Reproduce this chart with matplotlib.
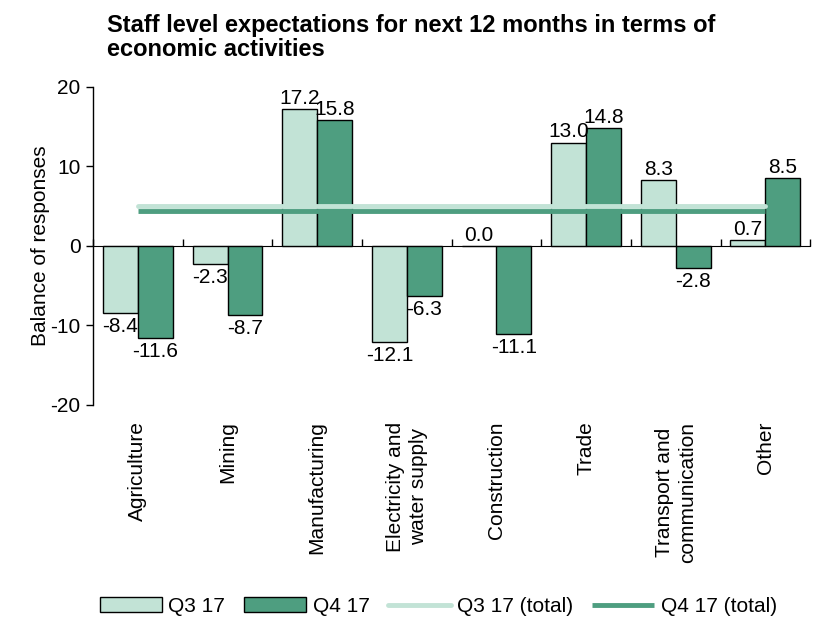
import matplotlib
matplotlib.use("Agg")
import matplotlib.pyplot as plt
import numpy as np

plt.rcParams['font.family'] = ['Liberation Sans', 'DejaVu Sans']
plt.rcParams['axes.unicode_minus'] = False

categories = ["Agriculture", "Mining", "Manufacturing", "Electricity and\nwater supply",
              "Construction", "Trade", "Transport and\ncommunication", "Other"]
q3 = [-8.4, -2.3, 17.2, -12.1, 0.0, 13.0, 8.3, 0.7]
q4 = [-11.6, -8.7, 15.8, -6.3, -11.1, 14.8, -2.8, 8.5]
q3_total = 5.0
q4_total = 4.4

c_light = "#C2E3D6"
c_dark = "#4E9E80"
fs = 15

fig = plt.figure(figsize=(8.16, 6.21), dpi=100)
ax = fig.add_axes([0.114, 0.348, 0.879, 0.512])

x = np.arange(len(categories))
w = 0.39
b1 = ax.bar(x - w/2, q3, w, color=c_light, edgecolor="black", linewidth=1.0, label="Q3 17", zorder=2)
b2 = ax.bar(x + w/2, q4, w, color=c_dark, edgecolor="black", linewidth=1.0, label="Q4 17", zorder=2)

l1, = ax.plot([x[0], x[-1]], [q3_total, q3_total], color=c_light, lw=3.5, label="Q3 17 (total)",
              solid_capstyle="round", zorder=4)
l2, = ax.plot([x[0], x[-1]], [q4_total, q4_total], color=c_dark, lw=3.5, label="Q4 17 (total)",
              solid_capstyle="butt", zorder=3)

for bars, vals in ((b1, q3), (b2, q4)):
    for rect, v in zip(bars, vals):
        cx = rect.get_x() + rect.get_width() / 2
        if v >= 0:
            ax.annotate(f"{v:.1f}", (cx, v), xytext=(0, 1), textcoords="offset points",
                        ha="center", va="bottom", fontsize=fs, zorder=5)
        else:
            ax.annotate(f"{v:.1f}", (cx, v), xytext=(0, -3), textcoords="offset points",
                        ha="center", va="top", fontsize=fs, zorder=5)

ax.set_xlim(-0.5, len(categories) - 0.5)
ax.set_ylim(-20, 20)
ax.set_yticks([-20, -10, 0, 10, 20])
ax.tick_params(axis="y", labelsize=fs, direction="out", length=5, width=1, pad=4)
ax.set_ylabel("Balance of responses", fontsize=fs, labelpad=0)

ax.spines["top"].set_visible(False)
ax.spines["right"].set_visible(False)
ax.spines["bottom"].set_visible(False)
ax.spines["left"].set_linewidth(1)

ax.set_xticks(x)
ax.set_xticklabels(categories, rotation=90, fontsize=fs, va="top", ha="center", linespacing=1.3)
ax.tick_params(axis="x", length=0, pad=12)

# zero axis line with category boundary ticks
sec = ax.secondary_xaxis(0.5)
sec.spines["bottom"].set_linewidth(1.2)
sec.set_xticks(np.arange(-0.5, len(categories), 1.0))
sec.set_xticklabels([])
sec.tick_params(axis="x", direction="out", length=5, width=1)

fig.text(0.131, 0.978, "Staff level expectations for next 12 months in terms of\neconomic activities",
         fontsize=17, fontweight="bold", ha="left", va="top", linespacing=1.05)

fig.legend([b1, b2, l1, l2], ["Q3 17", "Q4 17", "Q3 17 (total)", "Q4 17 (total)"],
           loc="lower center", bbox_to_anchor=(0.537, -0.022), ncol=4,
           frameon=False, fontsize=fs, handlelength=3.0, handletextpad=0.3, columnspacing=0.9)

fig.savefig("out.png", dpi=100)
